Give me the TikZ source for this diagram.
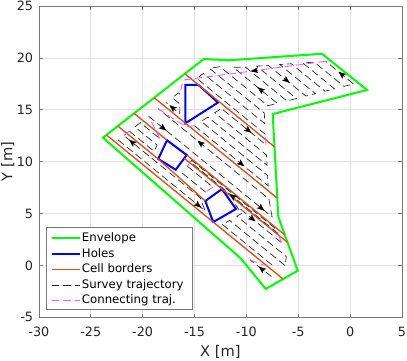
\documentclass[tikz,border=0pt]{standalone}
\usepackage{fontspec}
\setmainfont{DejaVu Sans}
\usetikzlibrary{arrows.meta}
\definecolor{envgreen}{RGB}{0,255,0}
\definecolor{holeblue}{RGB}{0,0,255}
\definecolor{cellorange}{RGB}{217,83,25}
\definecolor{connmag}{RGB}{255,80,255}
\definecolor{gridgray}{RGB}{225,225,225}
\definecolor{axgray}{RGB}{120,120,120}
\definecolor{txtgray}{RGB}{38,38,38}
\begin{document}
\begin{tikzpicture}[x=7.78125pt,y=7.78125pt,
 envelope/.style={draw=envgreen,line width=1.5pt},
 hole/.style={draw=holeblue,line width=1.5pt},
 cellborder/.style={draw=cellorange,line width=1pt},
 survey/.style={draw=black!85,line width=0.5pt,dash pattern=on 5.5pt off 3pt},
 connect/.style={draw=connmag,line width=0.65pt,dash pattern=on 5.5pt off 3pt},
 dirarrow/.style={-{Stealth[length=5.5pt,width=4.4pt,inset=1.3pt]},line width=0.3pt,black},
 gridline/.style={draw=gridgray,line width=0.5pt},
 axline/.style={draw=axgray,line width=0.5pt},
 ticklab/.style={font=\fontsize{9.6}{11}\selectfont,text=txtgray,inner sep=0pt},
 axlab/.style={font=\fontsize{11}{13}\selectfont,text=txtgray,inner sep=0pt},
 legtext/.style={font=\fontsize{8.8}{10}\selectfont,text=black,inner sep=0pt,anchor=west,text height=0.72em,text depth=0.22em}
]
\useasboundingbox (-33.744,-9.118) rectangle (5.484,25.581);
\fill[white] (-33.744,-9.118) rectangle (5.484,25.581);
% grid
\foreach \x in {-25,-20,...,0} \draw[gridline] (\x,-5) -- (\x,25);
\foreach \y in {0,5,...,20} \draw[gridline] (-30,\y) -- (5,\y);
% ticks
\foreach \x in {-25,-20,...,0} {\draw[axline] (\x,-5) -- (\x,-4.64); \draw[axline] (\x,25) -- (\x,24.64);}
\foreach \y in {0,5,...,20} {\draw[axline] (-30,\y) -- (-29.64,\y); \draw[axline] (5,\y) -- (4.64,\y);}
\draw[axline] (-30,-5) rectangle (5,25);
% tick labels
\foreach \x [count=\i] in {-30,-25,...,5} \node[ticklab] (xtick\i) at (\x,-6.39) {\x};
\foreach \y [count=\i] in {-5,0,...,25} \node[ticklab,anchor=east] (ytick\i) at (-30.53,\y) {\y};
\node[axlab] (xlabel) at (-12.5,-8.32) {X [m]};
\node[axlab,rotate=90] (ylabel) at (-33.0,10) {Y [m]};
% envelope
\draw[envelope] (-23.82,12.31) -- (-14.11,19.89) -- (-11.67,19.77) -- (-2.71,20.40) -- (1.63,16.91) -- (-7.46,14.59) -- (-6.92,4.69) -- (-5.05,-0.51) -- (-8.13,-2.27) -- (-10.54,0.68) -- cycle;
% holes
\draw[hole] (-15.87,17.39) -- (-14.61,17.39) -- (-12.73,15.70) -- (-15.87,13.70) -- cycle;
\draw[hole] (-18.49,10.26) -- (-17.65,12.06) -- (-15.75,10.64) -- (-16.81,9.22) -- cycle;
\draw[hole] (-13.96,6.21) -- (-12.35,7.36) -- (-11.00,5.44) -- (-13.19,4.18) -- cycle;
\begin{scope}[rotate=-39.2]
% cell borders
\draw[cellborder] (-24.02,4.25) -- (-12.86,4.25);
\draw[cellborder] (-24.85,0.59) -- (-9.54,0.59);
\draw[cellborder] (-25.40,-1.80) -- (-21.30,-1.80);
\draw[cellborder] (-18.93,-1.70) -- (-6.73,-1.70);
\draw[cellborder] (-18.91,-2.10) -- (-6.07,-2.10);
\draw[cellborder] (-25.84,-3.74) -- (-20.81,-3.74) -- (-14.74,-4.01);
\draw[cellborder] (-26.15,-5.10) -- (-4.17,-5.10);
% survey trajectories
\draw[survey] (-14.31,4.630) -- (-22.83,4.630) -- (-22.66,5.391) -- (-15.00,5.391) -- (-15.69,6.152) -- (-22.49,6.152) -- (-21.84,6.913) -- (-15.87,6.913) -- (-15.31,7.674) -- (-20.80,7.674) -- (-19.91,8.434) -- (-14.74,8.434) -- (-14.18,9.195) -- (-19.11,9.195) -- (-18.30,9.956) -- (-13.62,9.956) -- (-13.05,10.717) -- (-17.49,10.717) -- (-16.68,11.478) -- (-12.49,11.478) -- (-11.93,12.238) -- (-15.87,12.238) -- (-15.06,12.999) -- (-11.36,12.999) -- (-10.80,13.760) -- (-14.25,13.760);
\draw[survey] (-23.15,2.42) -- (-23.34,2.42) -- (-23.50,1.688) -- (-22.55,1.688) -- (-21.96,0.956) -- (-23.67,0.956);
\draw[survey] (-20.14,0.956) -- (-10.97,0.956) -- (-11.64,1.688) -- (-19.90,1.688) -- (-19.65,2.42) -- (-12.30,2.42) -- (-12.97,3.152) -- (-19.41,3.152) -- (-19.17,3.884) -- (-13.63,3.884);
\draw[survey] (-24.14,-1.128) -- (-8.78,-1.128) -- (-10.12,0.017) -- (-23.88,0.017);
\draw[survey] (-24.67,-3.42) -- (-21.59,-3.42) -- (-21.75,-2.77) -- (-24.52,-2.77) -- (-24.37,-2.12) -- (-21.92,-2.12);
\draw[survey] (-7.33,-2.0) -- (-18.22,-2.0) -- (-18.23,-1.8) -- (-7.67,-1.8);
\draw[survey] (-18.20,-2.51) -- (-15.03,-2.51);
\draw[survey] (-15.25,-3.33) -- (-18.17,-3.33);
\draw[survey] (-5.86,-4.725) -- (-12.02,-4.725) -- (-11.74,-3.975) -- (-4.84,-3.975) -- (-5.30,-3.225) -- (-11.46,-3.225) -- (-11.27,-2.73) -- (-12.18,-2.475) -- (-6.54,-2.475);
\draw[survey] (-24.97,-4.76) -- (-14.15,-4.76) -- (-15.32,-4.08) -- (-24.82,-4.08);
\draw[survey] (-5.2,-5.62) -- (-7.8,-5.68);
% connecting trajectories
\draw[connect] (-14.25,13.760) -- (-23.77,3.67) -- (-23.15,2.42);
\draw[connect] (-21.92,-2.12) -- (-24.14,-1.128);
\draw[connect] (-23.88,0.017) -- (-21.36,0.26) -- (-20.54,0.50) -- (-20.14,0.956);
\draw[connect] (-13.63,3.884) -- (-14.31,4.630);
\draw[connect] (-24.82,-4.08) -- (-24.67,-3.42);
\draw[connect] (-6.54,-2.475) -- (-7.33,-2.0);
\draw[connect] (-18.20,-2.51) -- (-18.22,-2.0);
\draw[connect] (-15.03,-2.51) -- (-15.25,-3.33);
\draw[connect] (-7.8,-5.68) -- (-6.53,-5.27) -- (-5.86,-4.725);
% direction arrows
\draw[dirarrow] (-11.95,13.760) -- (-12.65,13.760);
\draw[dirarrow] (-16.35,9.956) -- (-15.65,9.956);
\draw[dirarrow] (-17.05,7.674) -- (-17.75,7.674);
\draw[dirarrow] (-18.77,8.97) -- (-19.25,8.46);
\draw[dirarrow] (-22.55,0.956) -- (-23.25,0.956);
\draw[dirarrow] (-22.65,-1.128) -- (-21.95,-1.128);
\draw[dirarrow] (-10.45,-1.128) -- (-9.75,-1.128);
\draw[dirarrow] (-18.30,0.017) -- (-19.00,0.017);
\draw[dirarrow] (-14.65,0.956) -- (-13.95,0.956);
\draw[dirarrow] (-16.15,3.884) -- (-15.45,3.884);
\draw[dirarrow] (-12.65,-2.0) -- (-13.35,-2.0);
\draw[dirarrow] (-10.45,-2.475) -- (-9.75,-2.475);
\draw[dirarrow] (-23.45,-4.08) -- (-24.15,-4.08);
\draw[dirarrow] (-15.35,-4.76) -- (-14.65,-4.76);
\draw[dirarrow] (-6.05,-5.65) -- (-6.75,-5.65);
\end{scope}
% legend
\draw[axline,fill=white] (-29.24,-4.20) rectangle (-15.17,3.63);
\draw[envelope] (-28.74,2.631) -- (-26.00,2.631);
\node[legtext] (lg1) at (-25.87,2.67) {Envelope};
\draw[hole] (-28.74,1.099) -- (-26.00,1.099);
\node[legtext] (lg2) at (-25.87,1.13) {Holes};
\fill[cellorange] (-28.74,-0.318) rectangle (-26.00,-0.448);
\node[legtext] (lg3) at (-25.87,-0.38) {Cell borders};
\draw[survey] (-28.74,-1.937) -- (-26.00,-1.937);
\node[legtext] (lg4) at (-25.87,-1.89) {Survey trajectory};
\draw[connect] (-28.74,-3.383) -- (-26.00,-3.383);
\node[legtext] (lg5) at (-25.87,-3.33) {Connecting traj.};
\end{tikzpicture}
\end{document}
